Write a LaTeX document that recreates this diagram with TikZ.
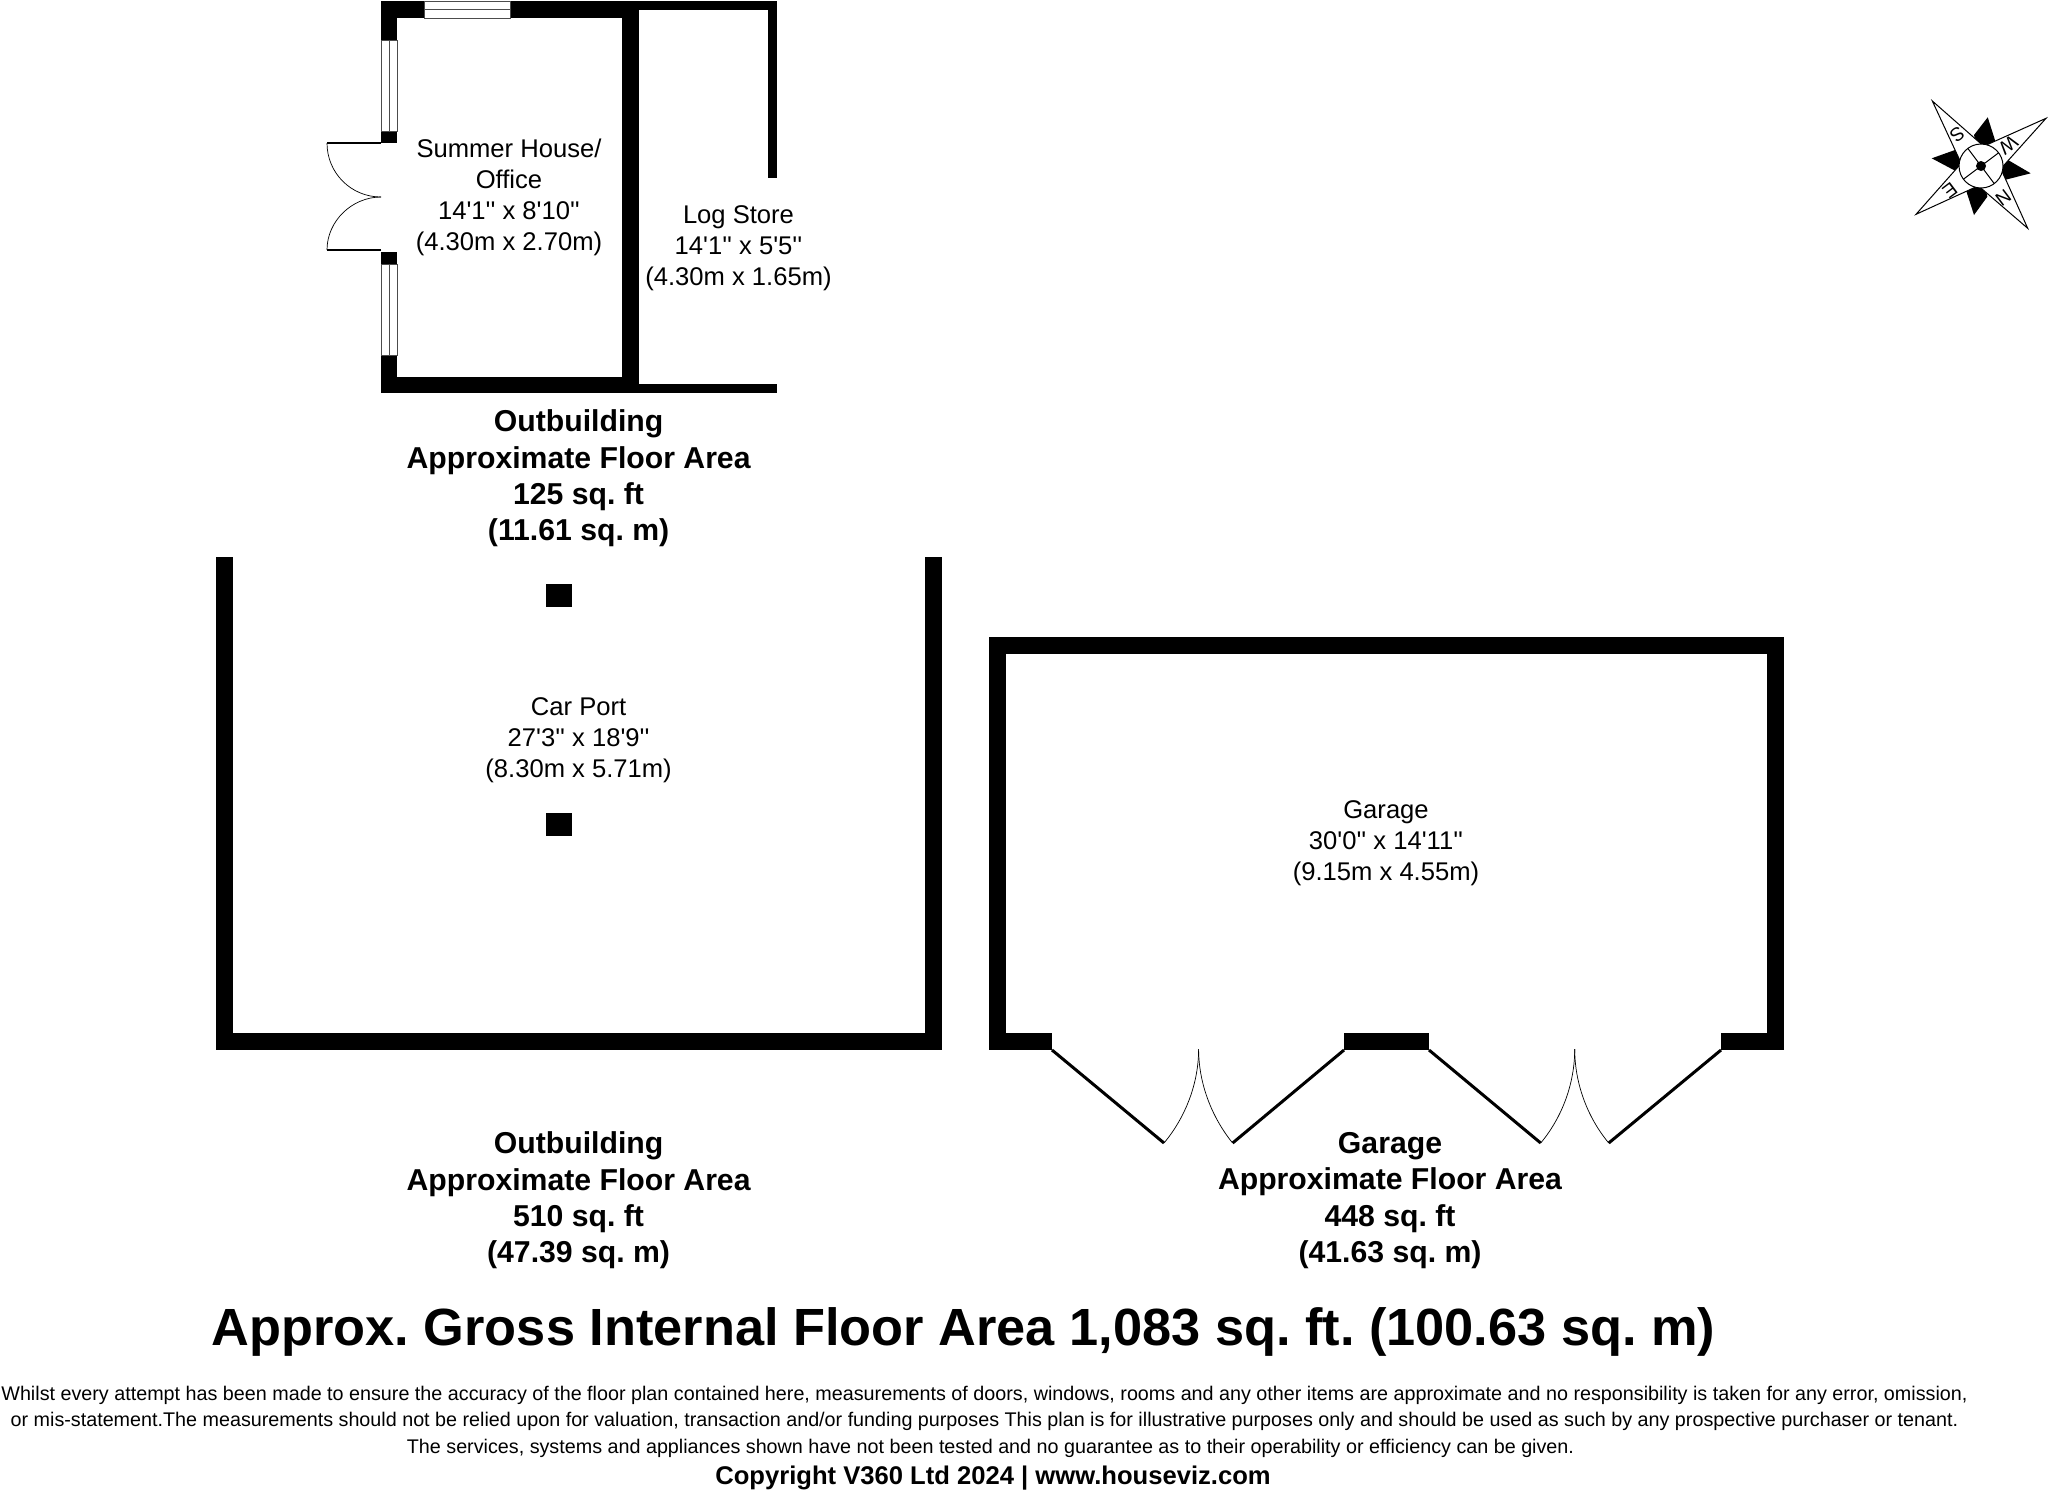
\documentclass[tikz,border=0pt]{standalone}
\usepackage{fontspec}
\newfontfamily\planfont{Liberation Sans}
\frenchspacing
\begin{document}
\begin{tikzpicture}
	[
		x=0.5pt, y=-0.5pt,
		every node/.style = {align=center, inner sep=0pt},
		wall/.style={fill=black},
		glazing/.style={fill=white, draw=black!70, line width=0.35pt},
		leaf/.style={line width=1.5pt},
		swing/.style={line width=0.35pt},
		roomlabel/.style={font=\planfont\fontsize{12.8}{15.5}\selectfont},
		arealabel/.style={font=\planfont\bfseries\fontsize{15.1}{18.2}\selectfont},
		printlabel/.style={font=\planfont\fontsize{9.87}{13}\selectfont},
		compassletter/.style={font=\planfont\fontsize{9.5}{10}\selectfont, rotate=-143}
	]
	\useasboundingbox (0,0) rectangle (2048,1490);

	% summer house and log store
	\fill[wall] (381,1) rectangle (639,18);
	\fill[wall] (622,1) rectangle (777,10);
	\fill[wall] (768,1) rectangle (777,178);
	\fill[wall] (622,1) rectangle (639,393);
	\fill[wall] (381,377) rectangle (639,393);
	\fill[wall] (622,384) rectangle (777,393);
	\fill[wall] (381,1) rectangle (397,143);
	\fill[wall] (381,252) rectangle (397,393);
	\draw[glazing] (424,1) rectangle (510,18);
	\draw[glazing] (424,9.5) -- (510,9.5);
	\draw[glazing] (381,40) rectangle (397,131);
	\draw[glazing] (389,40) -- (389,131);
	\draw[glazing] (381,264) rectangle (397,355);
	\draw[glazing] (389,264) -- (389,355);
	\draw[line width=1pt] (381,143) -- (327,143);
	\draw[line width=1pt] (381,250) -- (327,250);
	\draw[swing] (327,143) .. controls (327,173) and (351,197) .. (381,197);
	\draw[swing] (327,250) .. controls (327,221) and (352,197) .. (381,197);

	% car port
	\fill[wall] (215.5,557) rectangle (232.5,1050);
	\fill[wall] (215.5,1033) rectangle (942,1050);
	\fill[wall] (925,557) rectangle (942,1050);
	\fill[wall] (546,584) rectangle (572,607);
	\fill[wall] (546,813) rectangle (572,836);

	% garage
	\fill[wall] (989,637) rectangle (1784,654);
	\fill[wall] (989,637) rectangle (1006,1050);
	\fill[wall] (1767,637) rectangle (1784,1050);
	\fill[wall] (989,1033) rectangle (1052,1050);
	\fill[wall] (1344,1033) rectangle (1429,1050);
	\fill[wall] (1721,1033) rectangle (1784,1050);
	\draw[leaf] (1052,1050) -- (1164,1143);
	\draw[leaf] (1344,1050) -- (1232.6,1143);
	\draw[leaf] (1429,1050) -- (1540.7,1143);
	\draw[leaf] (1721,1050) -- (1608.7,1143);
	\draw[swing] (1164,1143) .. controls (1185.8,1116.8) and (1198.6,1083) .. (1198.6,1049);
	\draw[swing] (1232.6,1143) .. controls (1211.4,1116.8) and (1198.6,1083) .. (1198.6,1049);
	\draw[swing] (1540.7,1143) .. controls (1562.5,1116.8) and (1574.7,1083) .. (1574.7,1049);
	\draw[swing] (1608.7,1143) .. controls (1587,1116.8) and (1574.7,1083) .. (1574.7,1049);

	% compass
	\fill (1987.7,117.3) -- (1974,135) -- (1981,166) -- (1996,143.3) -- cycle;
	\fill (2030.7,173.3) -- (2008,160) -- (1981,166) -- (2001.7,180.7) -- cycle;
	\fill (1974,215) -- (1965.7,189.3) -- (1981,166) -- (1987.3,196.7) -- cycle;
	\fill (1931.7,158.3) -- (1955,150) -- (1981,166) -- (1960,173.3) -- cycle;
	\draw[fill=white, line width=0.5pt] (1932.3,101) -- (1983.7,146.2) -- (2046,118.3) -- (2000.8,168.7)
		-- (2027.7,228.3) -- (1978.3,185.8) -- (1916,214.3) -- (1961.2,163.3) -- cycle;
	\draw[fill=white, line width=0.5pt] (1981,166) circle[radius=11pt];
	\draw[line width=0.5pt] (1967.8,148.4) -- (1994.2,183.6);
	\draw[line width=0.5pt] (1963.4,179.2) -- (1998.6,152.8);
	\fill (1981,166) circle[radius=2.5pt];
	\node[compassletter] (compassS) at (1957.3,134.3) {S};
	\node[compassletter] (compassW) at (2008.3,145) {W};
	\node[compassletter] (compassN) at (2003.3,198.3) {N};
	\node[compassletter] (compassE) at (1950,190.7) {E};

	% room labels
	\node[roomlabel] (summerhouse) at (509,197.5) {Summer House/\\Office\\14'1'' x 8'10''\\(4.30m x 2.70m)};
	\node[roomlabel] (logstore) at (738.5,248.5) {Log Store\\14'1'' x 5'5''\\(4.30m x 1.65m)};
	\node[roomlabel] (carport) at (578.6,740) {Car Port\\27'3'' x 18'9''\\(8.30m x 5.71m)};
	\node[roomlabel] (garage) at (1386,843.5) {Garage\\30'0'' x 14'11''\\(9.15m x 4.55m)};

	% floor areas
	\node[arealabel] (areaone) at (578.6,478.5) {Outbuilding\\Approximate Floor Area\\125 sq. ft\\(11.61 sq. m)};
	\node[arealabel] (areatwo) at (578.6,1200.5) {Outbuilding\\Approximate Floor Area\\510 sq. ft\\(47.39 sq. m)};
	\node[arealabel] (areathree) at (1390,1200.5) {Garage\\Approximate Floor Area\\448 sq. ft\\(41.63 sq. m)};
	\node[font=\planfont\bfseries\fontsize{26.17}{30}\selectfont] (grossarea) at (963.5,1331.5)
		{Approx. Gross Internal Floor Area 1,083 sq. ft. (100.63 sq. m)};

	% small print
	\node[printlabel] (smallprint) at (984.5,1408.5)
		{Whilst every attempt has been made to ensure the accuracy of the floor plan contained here, measurements of doors, windows, rooms and any other items are approximate and no responsibility is taken for any error, omission,\\
		or mis-statement.The measurements should not be relied upon for valuation, transaction and/or funding purposes This plan is for illustrative purposes only and should be used as such by any prospective purchaser or tenant.};
	\node[printlabel] (smallprintend) at (990.5,1448)
		{The services, systems and appliances shown have not been tested and no guarantee as to their operability or efficiency can be given.};
	\node[font=\planfont\bfseries\fontsize{12.8}{14}\selectfont] (copyright) at (993,1478.5) {Copyright V360 Ltd 2024 | www.houseviz.com};
\end{tikzpicture}
\end{document}
